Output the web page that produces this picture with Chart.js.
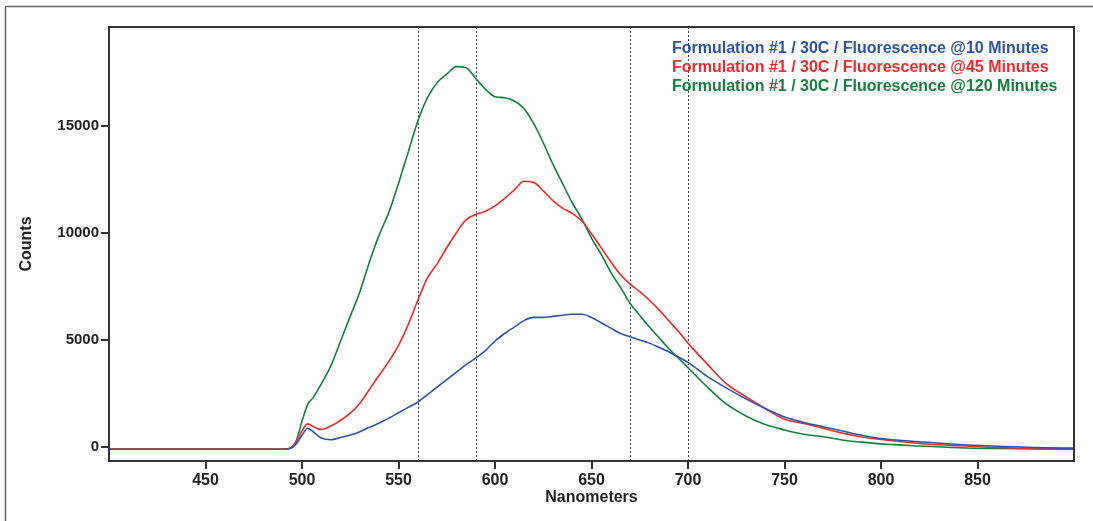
<!DOCTYPE html>
<html>
<head>
<meta charset="utf-8">
<script src="https://cdn.jsdelivr.net/npm/chart.js@4"></script>
<style>
  html, body { margin: 0; padding: 0; background: #fff; }
  #wrap { width: 1093px; height: 521px; position: relative; }
</style>
</head>
<body>
<div id="wrap"><canvas id="chart" width="1093" height="521"></canvas></div>
<script>
// wavelengths (nm) shared by all three spectra
const wavelengths = [400, 450, 490, 494, 497, 500, 503, 506, 510, 515, 520, 525, 530, 535, 540, 545, 550, 555, 560, 565,
  570, 575, 580, 585, 590, 595, 600, 605, 610, 615, 620, 625, 630, 635, 640, 645, 650, 655, 660, 665,
  670, 675, 680, 685, 690, 695, 700, 710, 720, 730, 740, 750, 760, 770, 780, 790, 800, 820, 840, 860, 880, 900];

const counts10 = [-100, -100, -100, -60, 150, 550, 880, 700, 420, 340, 450, 560, 720, 920, 1120, 1350, 1600, 1850, 2100, 2450,
  2800, 3150, 3500, 3850, 4150, 4500, 4950, 5300, 5600, 5900, 6050, 6050, 6100, 6150, 6200, 6200, 6050, 5800, 5550, 5300,
  5150, 5000, 4850, 4650, 4450, 4200, 3950, 3300, 2750, 2250, 1800, 1400, 1150, 950, 750, 550, 400, 250, 120, 40, -20, -50];

const counts45 = [-100, -100, -100, -50, 250, 750, 1080, 950, 820, 980, 1250, 1580, 2050, 2700, 3350, 4000, 4750, 5700, 6850, 7900,
  8550, 9300, 10000, 10600, 10850, 11000, 11250, 11600, 12000, 12400, 12350, 11950, 11500, 11150, 10900, 10550, 9950, 9300, 8650, 8050,
  7600, 7250, 6850, 6400, 5900, 5400, 4850, 3870, 2950, 2350, 1800, 1300, 1100, 880, 650, 470, 350, 170, 60, -20, -60, -80];

const counts120 = [-100, -100, -100, -50, 300, 1200, 2000, 2330, 2950, 3800, 4950, 6100, 7250, 8650, 9900, 10950, 12300, 13750, 15200, 16300,
  17000, 17400, 17750, 17700, 17200, 16700, 16350, 16300, 16150, 15800, 15100, 14200, 13200, 12300, 11400, 10650, 9750, 9000, 8150, 7450,
  6700, 6150, 5600, 5100, 4600, 4150, 3700, 2800, 2000, 1450, 1050, 800, 600, 480, 330, 230, 150, 50, -30, -70, -90, -100];

const seriesLabels = [
  'Formulation #1 / 30C / Fluorescence @10 Minutes',
  'Formulation #1 / 30C / Fluorescence @45 Minutes',
  'Formulation #1 / 30C / Fluorescence @120 Minutes'
];
const seriesColors = ['#2D54A6', '#EE2A2E', '#138040'];

const xTicks = [450, 500, 550, 600, 650, 700, 750, 800, 850];
const yTicks = [0, 5000, 10000, 15000];
const markerLines = [560, 590, 670, 700]; // dotted reference wavelengths

const toPoints = (vals) => wavelengths.map((w, i) => ({ x: w, y: vals[i] }));
const allCounts = [counts10, counts45, counts120];

const frame = {
  id: 'frame',
  beforeDraw(chart) {
    const ctx = chart.ctx;
    ctx.save();
    ctx.strokeStyle = '#666';
    ctx.lineWidth = 1.5;
    ctx.strokeRect(5.5, 6.5, 1200, 600);
    ctx.restore();
  },
  beforeDatasetsDraw(chart) {
    const { ctx, chartArea, scales } = chart;
    ctx.save();
    ctx.strokeStyle = '#444';
    ctx.lineWidth = 1;
    ctx.setLineDash([2, 2]);
    markerLines.forEach(w => {
      const x = Math.round(scales.x.getPixelForValue(w)) + 0.5;
      ctx.beginPath();
      ctx.moveTo(x, chartArea.top);
      ctx.lineTo(x, chartArea.bottom);
      ctx.stroke();
    });
    ctx.restore();
  },
  afterDraw(chart) {
    const { ctx, chartArea } = chart;
    ctx.save();
    ctx.strokeStyle = '#333';
    ctx.lineWidth = 2;
    ctx.strokeRect(chartArea.left, chartArea.top, chartArea.right - chartArea.left, chartArea.bottom - chartArea.top);
    // series labels in the upper right
    ctx.font = 'bold 16px "Liberation Sans", Arial, sans-serif';
    ctx.textBaseline = 'middle';
    seriesLabels.forEach((t, i) => {
      ctx.fillStyle = seriesColors[i];
      ctx.fillText(t, chartArea.left + 563, chartArea.top + 22 + i * 19);
    });
    ctx.restore();
  }
};

Chart.defaults.font.family = '"Liberation Sans", Arial, sans-serif';

new Chart(document.getElementById('chart'), {
  type: 'line',
  data: {
    datasets: allCounts.map((vals, i) => ({
      label: seriesLabels[i],
      data: toPoints(vals),
      borderColor: seriesColors[i],
      borderWidth: 1.6,
      pointRadius: 0,
      cubicInterpolationMode: 'monotone'
    }))
  },
  options: {
    responsive: false,
    animation: false,
    layout: { padding: { left: 0, top: 27, right: 19, bottom: 0 } },
    plugins: { legend: { display: false }, tooltip: { enabled: false } },
    scales: {
      x: {
        type: 'linear',
        min: 400,
        max: 900,
        afterBuildTicks: (s) => { s.ticks = xTicks.map(v => ({ value: v })); },
        afterFit: (s) => { s.height = 60; },
        grid: { drawOnChartArea: false, drawTicks: true, tickLength: 8, color: '#333', lineWidth: 2 },
        border: { display: false },
        ticks: { color: '#222', font: { size: 16, weight: 'bold' }, padding: 2, maxRotation: 0, callback: (v) => String(v) },
        title: { display: true, text: 'Nanometers', color: '#222', font: { size: 16, weight: 'bold' }, padding: { top: 0, bottom: 14 } }
      },
      y: {
        min: -650,
        max: 19600,
        afterBuildTicks: (s) => { s.ticks = yTicks.map(v => ({ value: v })); },
        afterFit: (s) => { s.width = 109; },
        grid: { drawOnChartArea: false, drawTicks: true, tickLength: 8, color: '#333', lineWidth: 2 },
        border: { display: false },
        ticks: { color: '#222', font: { size: 15, weight: 'bold' }, padding: 2, callback: (v) => String(v) },
        title: { display: true, text: 'Counts', color: '#222', font: { size: 16, weight: 'bold' }, padding: { top: 17, bottom: 0 } }
      }
    }
  },
  plugins: [frame]
});
</script>
</body>
</html>
